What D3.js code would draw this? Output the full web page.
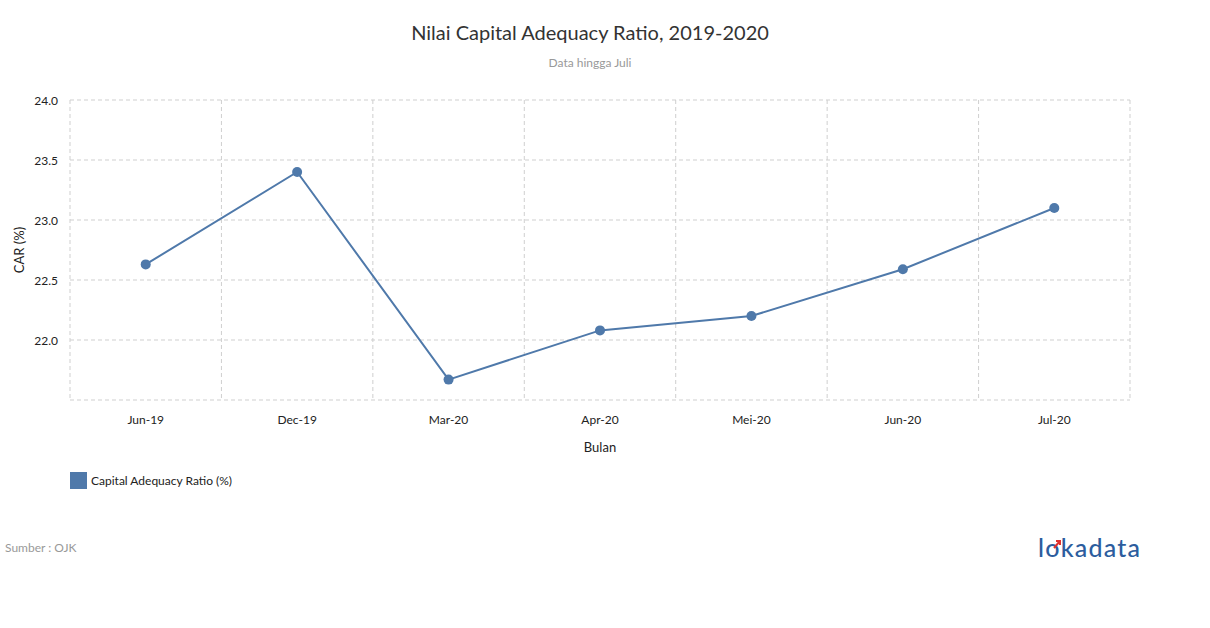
<!DOCTYPE html>
<html lang="en">
<head>
<meta charset="UTF-8">
<title>Nilai Capital Adequacy Ratio, 2019-2020</title>
<script src="https://d3js.org/d3.v7.min.js"></script>
<style>
  body { margin: 0; background: #fff; font-family: Lato, "Open Sans", sans-serif; }
  .grid line { stroke: #cfcfcf; stroke-dasharray: 4,3; }
  .axis text { font-family: Lato, sans-serif; font-size: 12px; fill: #222; }
</style>
</head>
<body>
<div id="chart"></div>
<script>
// data
var months = ["Jun-19", "Dec-19", "Mar-20", "Apr-20", "Mei-20", "Jun-20", "Jul-20"];
var carValues = [22.63, 23.40, 21.67, 22.08, 22.20, 22.59, 23.10];
var yTicks = [22.0, 22.5, 23.0, 23.5, 24.0];
var seriesName = "Capital Adequacy Ratio (%)";

var W = 1210, H = 628;
var margin = {top: 100, right: 80, bottom: 228, left: 70},
    width = W - margin.left - margin.right,
    height = H - margin.top - margin.bottom;
var color = "#4f79aa";

var root = d3.select("#chart").append("svg")
    .attr("width", W)
    .attr("height", H);

// title + subtitle
root.append("text")
    .attr("x", 590).attr("y", 40)
    .attr("text-anchor", "middle")
    .style("font-size", "20px")
    .style("fill", "#333")
    .text("Nilai Capital Adequacy Ratio, 2019-2020");
root.append("text")
    .attr("x", 590).attr("y", 67)
    .attr("text-anchor", "middle")
    .style("font-size", "12px")
    .style("fill", "#999")
    .text("Data hingga Juli");

var svg = root.append("g")
    .attr("transform", "translate(" + margin.left + "," + margin.top + ")");

var x = d3.scaleBand()
    .domain(months)
    .range([0, width]);

var y = d3.scaleLinear()
    .domain([21.5, 24.0])
    .range([height, 0]);

// horizontal grid (incl. top and bottom frame)
svg.append("g")
    .attr("class", "grid")
    .selectAll("line")
    .data(yTicks.concat([21.5]))
    .enter().append("line")
    .attr("x1", 0).attr("x2", width)
    .attr("y1", function(d) { return y(d); })
    .attr("y2", function(d) { return y(d); });

// vertical grid on band edges
var edges = months.map(function(m) { return x(m); }).concat([width]);
svg.append("g")
    .attr("class", "grid")
    .selectAll("line")
    .data(edges)
    .enter().append("line")
    .attr("x1", function(d) { return d; })
    .attr("x2", function(d) { return d; })
    .attr("y1", 0).attr("y2", height);

// y axis
var yAxis = svg.append("g")
    .attr("class", "axis")
    .call(d3.axisLeft(y).tickValues(yTicks).tickFormat(d3.format(".1f")).tickSize(0).tickPadding(12));
yAxis.select(".domain").remove();
yAxis.selectAll("text").attr("dy", "0.4em");

// x axis
var xAxis = svg.append("g")
    .attr("class", "axis")
    .attr("transform", "translate(0," + height + ")")
    .call(d3.axisBottom(x).tickSize(0).tickPadding(15));
xAxis.select(".domain").remove();

// axis titles
svg.append("text")
    .attr("x", width / 2).attr("y", height + 52)
    .attr("text-anchor", "middle")
    .style("font-size", "13px")
    .style("fill", "#222")
    .text("Bulan");
svg.append("text")
    .attr("transform", "translate(-46," + y(22.75) + ") rotate(-90)")
    .attr("text-anchor", "middle")
    .style("font-size", "13px")
    .style("fill", "#222")
    .text("CAR (%)");

// line
var line = d3.line()
    .x(function(d, i) { return x(months[i]) + x.bandwidth() / 2; })
    .y(function(d) { return y(d); });

svg.append("path")
    .datum(carValues)
    .attr("fill", "none")
    .attr("stroke", color)
    .attr("stroke-width", 2)
    .attr("d", line);

svg.selectAll(".dot")
    .data(carValues)
    .enter().append("circle")
    .attr("class", "dot")
    .attr("cx", function(d, i) { return x(months[i]) + x.bandwidth() / 2; })
    .attr("cy", function(d) { return y(d); })
    .attr("r", 5)
    .attr("fill", color);

// legend
var legend = root.append("g").attr("transform", "translate(70,472)");
legend.append("rect")
    .attr("width", 17).attr("height", 17)
    .attr("fill", color);
legend.append("text")
    .attr("x", 21).attr("y", 13)
    .style("font-size", "12px")
    .style("fill", "#222")
    .text(seriesName);

// source
root.append("text")
    .attr("x", 5).attr("y", 552)
    .style("font-size", "12px")
    .style("fill", "#999")
    .text("Sumber : OJK");

// logo
var logo = root.append("g").attr("transform", "translate(1038,557)");
logo.append("text")
    .attr("x", 0).attr("y", 0)
    .style("font-size", "25px")
    .style("font-family", "Lato, sans-serif")
    .style("font-weight", "500")
    .attr("textLength", 102)
    .style("fill", "#2c5d9e")
    .text("lokadata");
logo.append("path")
    .attr("d", "M16,-9 L22,-16 M18,-16 L22,-16 L22,-12")
    .attr("stroke", "#e0312f")
    .attr("stroke-width", 2)
    .attr("fill", "none");
</script>
</body>
</html>
